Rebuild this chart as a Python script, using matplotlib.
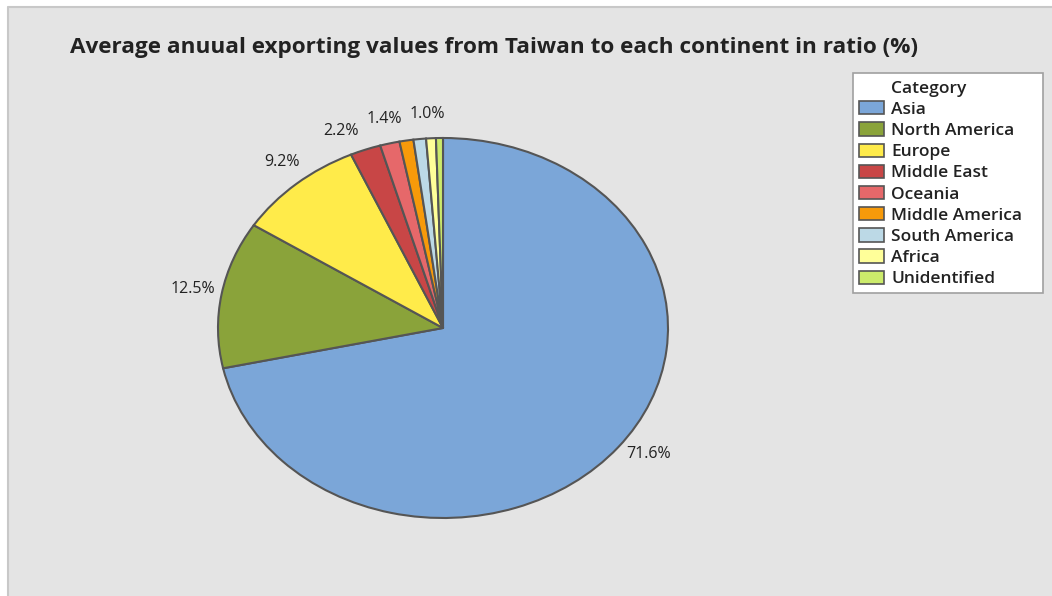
import matplotlib
matplotlib.use("Agg")
import matplotlib.pyplot as plt
from matplotlib.patches import Patch, Rectangle
from matplotlib.lines import Line2D
import numpy as np

categories = ["Asia", "North America", "Europe", "Middle East", "Oceania",
              "Middle America", "South America", "Africa", "Unidentified"]
values = [71.6, 12.5, 9.2, 2.2, 1.4, 1.0, 0.9, 0.7, 0.5]
colors = ["#7BA6D8", "#8AA33A", "#FFEB4A", "#C84646", "#E6686A",
          "#F79A0A", "#BCD9E6", "#FFFF99", "#CCEB6B"]
label_threshold = 1.0
label_nudge_deg = [2.8, -0.3, -1.4, 3.4, -0.4, -5.8, 0, 0, 0]

W, H = 1052, 596
fig = plt.figure(figsize=(W / 100, H / 100), dpi=100, facecolor="white")
fig.patches.append(Rectangle((7 / W, 0), 1 - 7 / W, 1 - 6 / H, transform=fig.transFigure,
                             facecolor="#E4E4E4", edgecolor="none", zorder=-10))
fig.lines.append(Line2D([7.5 / W, 7.5 / W, 1], [0, 1 - 6.5 / H, 1 - 6.5 / H],
                        transform=fig.transFigure, color="#C8C8C8", linewidth=1.5, zorder=-9))

font = "Open Sans"
ax = fig.add_axes([0, 0, 1, 1])
ax.patch.set_alpha(0)
wedges, _ = ax.pie(values, colors=colors, startangle=90, counterclock=False,
                   wedgeprops=dict(edgecolor="#555555", linewidth=1.5))
cx, cy, rx, ry = 443, 328, 225, 190
ax.set_aspect("auto")
ax.set_xlim(-cx / rx, (W - cx) / rx)
ax.set_ylim(-(H - cy) / ry, cy / ry)
ax.axis("off")

for w, v, nd in zip(wedges, values, label_nudge_deg):
    if v < label_threshold:
        continue
    ang = np.deg2rad((w.theta1 + w.theta2) / 2 + nd)
    r = 1.13
    ax.text(r * np.cos(ang), r * np.sin(ang), f"{v:.1f}%", ha="center", va="center",
            fontsize=11.5, family=font, color="#222222")

fig.text(70 / W, 1 - 47 / H, "Average anuual exporting values from Taiwan to each continent in ratio (%)",
         ha="left", va="center", fontsize=16.2, fontweight="bold", family=font, color="#222222")

# legend box (drawn separately to match the reference width)
lx0, ly0, lx1, ly1 = 853, 73, 1043, 293
fig.patches.append(Rectangle((lx0 / W, 1 - ly1 / H), (lx1 - lx0) / W, (ly1 - ly0) / H,
                             transform=fig.transFigure, facecolor="white",
                             edgecolor="#A0A0A0", linewidth=1.2, zorder=5))

handles = [Patch(facecolor="none", edgecolor="none")] + \
          [Patch(facecolor=c, edgecolor="#555555", linewidth=1.2) for c in colors]
labels = ["Category"] + categories
leg = fig.legend(handles, labels, loc="upper left", bbox_to_anchor=(852 / W, 1 - 73 / H),
                 borderaxespad=0, frameon=False,
                 prop=dict(family=font, size=12.5, weight="semibold"),
                 handlelength=1.45, handleheight=0.8, handletextpad=0.4,
                 labelspacing=0.26, borderpad=0.4)
leg.set_zorder(6)
for t in leg.get_texts():
    t.set_color("#222222")

fig.savefig("out.png", dpi=100, facecolor="white")
